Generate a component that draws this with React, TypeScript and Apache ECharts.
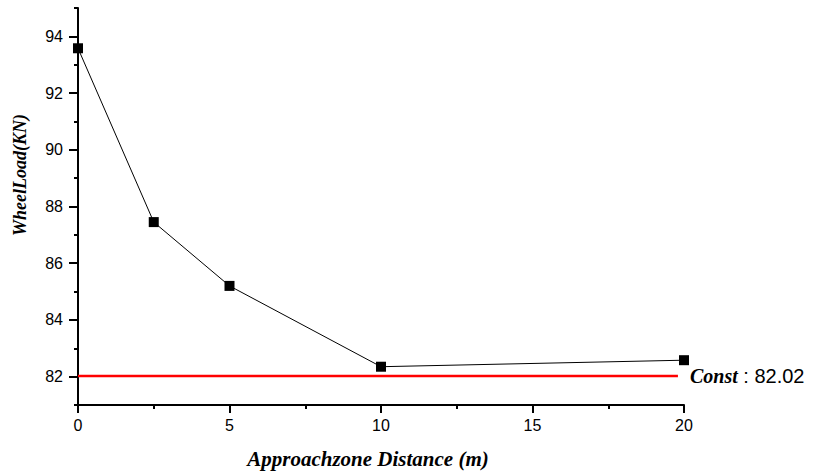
import React, { useEffect, useRef } from "react";
import * as echarts from "echarts";

const distances = [0, 2.5, 5, 10, 20];
const wheelLoads = [93.58, 87.45, 85.2, 82.35, 82.58];
const constValue = 82.02;
const constRange = [0, 19.8];
const xTicks = { min: 0, max: 20, interval: 5 };
const yMajorTicks = [82, 84, 86, 88, 90, 92, 94];
const yMinorTicks = [81, 83, 85, 87, 89, 91, 93, 95];
const xTitle = "Approachzone Distance (m)";
const yTitle = "WheelLoad(KN)";
const constLabel = "Const";

const SANS = "'Liberation Sans', Arial, sans-serif";
const SERIF = "'Liberation Serif', 'Times New Roman', serif";

export default function App() {
  const ref = useRef<HTMLDivElement>(null);

  useEffect(() => {
    if (!ref.current) return;
    const chart = echarts.init(ref.current, undefined, { renderer: "svg" });
    const axisColor = "#000";
    chart.setOption({
      animation: false,
      backgroundColor: "#fff",
      grid: { left: 78, right: 131, top: 8, bottom: 68, containLabel: false },
      xAxis: {
        type: "value",
        min: xTicks.min,
        max: xTicks.max,
        interval: xTicks.interval,
        axisLine: { show: true, onZero: false, lineStyle: { color: axisColor, width: 2 } },
        axisTick: { show: true, length: 8, lineStyle: { color: axisColor, width: 2 } },
        minorTick: { show: true, splitNumber: 2, length: 4, lineStyle: { color: axisColor, width: 2 } },
        splitLine: { show: false },
        minorSplitLine: { show: false },
        axisLabel: { color: "#000", fontSize: 16, fontFamily: SANS, margin: 12 },
      },
      yAxis: [
        {
          type: "value",
          min: 81,
          max: 95,
          position: "left",
          axisLine: { show: true, onZero: false, lineStyle: { color: axisColor, width: 2 } },
          axisTick: { show: true, length: 9, customValues: yMajorTicks, lineStyle: { color: axisColor, width: 2 } },
          axisLabel: { color: "#000", fontSize: 16, fontFamily: SANS, margin: 15, customValues: yMajorTicks },
          splitLine: { show: false },
        },
        {
          type: "value",
          min: 81,
          max: 95,
          position: "left",
          axisLine: { show: false },
          axisTick: { show: true, length: 4, customValues: yMinorTicks, lineStyle: { color: axisColor, width: 2 } },
          axisLabel: { show: false },
          splitLine: { show: false },
        },
      ],
      series: [
        {
          type: "line",
          yAxisIndex: 0,
          data: constRange.map((x) => [x, constValue]),
          symbol: "none",
          lineStyle: { color: "#ff0000", width: 2.5 },
          z: 2,
          endLabel: {
            show: true,
            distance: 12,
            formatter: () => `{c|${constLabel}} : ${constValue.toFixed(2)}`,
            color: "#000",
            fontSize: 20,
            fontFamily: SANS,
            rich: {
              c: { fontFamily: SERIF, fontWeight: "bold", fontStyle: "italic", fontSize: 20, color: "#000" },
            },
          },
        },
        {
          type: "line",
          yAxisIndex: 0,
          data: distances.map((d, i) => [d, wheelLoads[i]]),
          symbol: "rect",
          symbolSize: 10,
          itemStyle: { color: "#000" },
          lineStyle: { color: "#000", width: 1 },
          z: 3,
        },
      ],
      graphic: [
        {
          type: "text",
          x: 368,
          y: 459,
          style: {
            text: xTitle,
            fontFamily: SERIF,
            fontWeight: "bold",
            fontStyle: "italic",
            fontSize: 21,
            fill: "#000",
            align: "center",
            verticalAlign: "middle",
          },
        },
        {
          type: "text",
          x: 20,
          y: 175,
          rotation: Math.PI / 2,
          style: {
            text: yTitle,
            fontFamily: SERIF,
            fontWeight: "bold",
            fontStyle: "italic",
            fontSize: 18,
            fill: "#000",
            align: "center",
            verticalAlign: "middle",
          },
        },
      ],
    });
    return () => chart.dispose();
  }, []);

  return (
    <div
      ref={ref}
      style={{ position: "fixed", left: 0, top: 0, width: 815, height: 473 }}
    />
  );
}
